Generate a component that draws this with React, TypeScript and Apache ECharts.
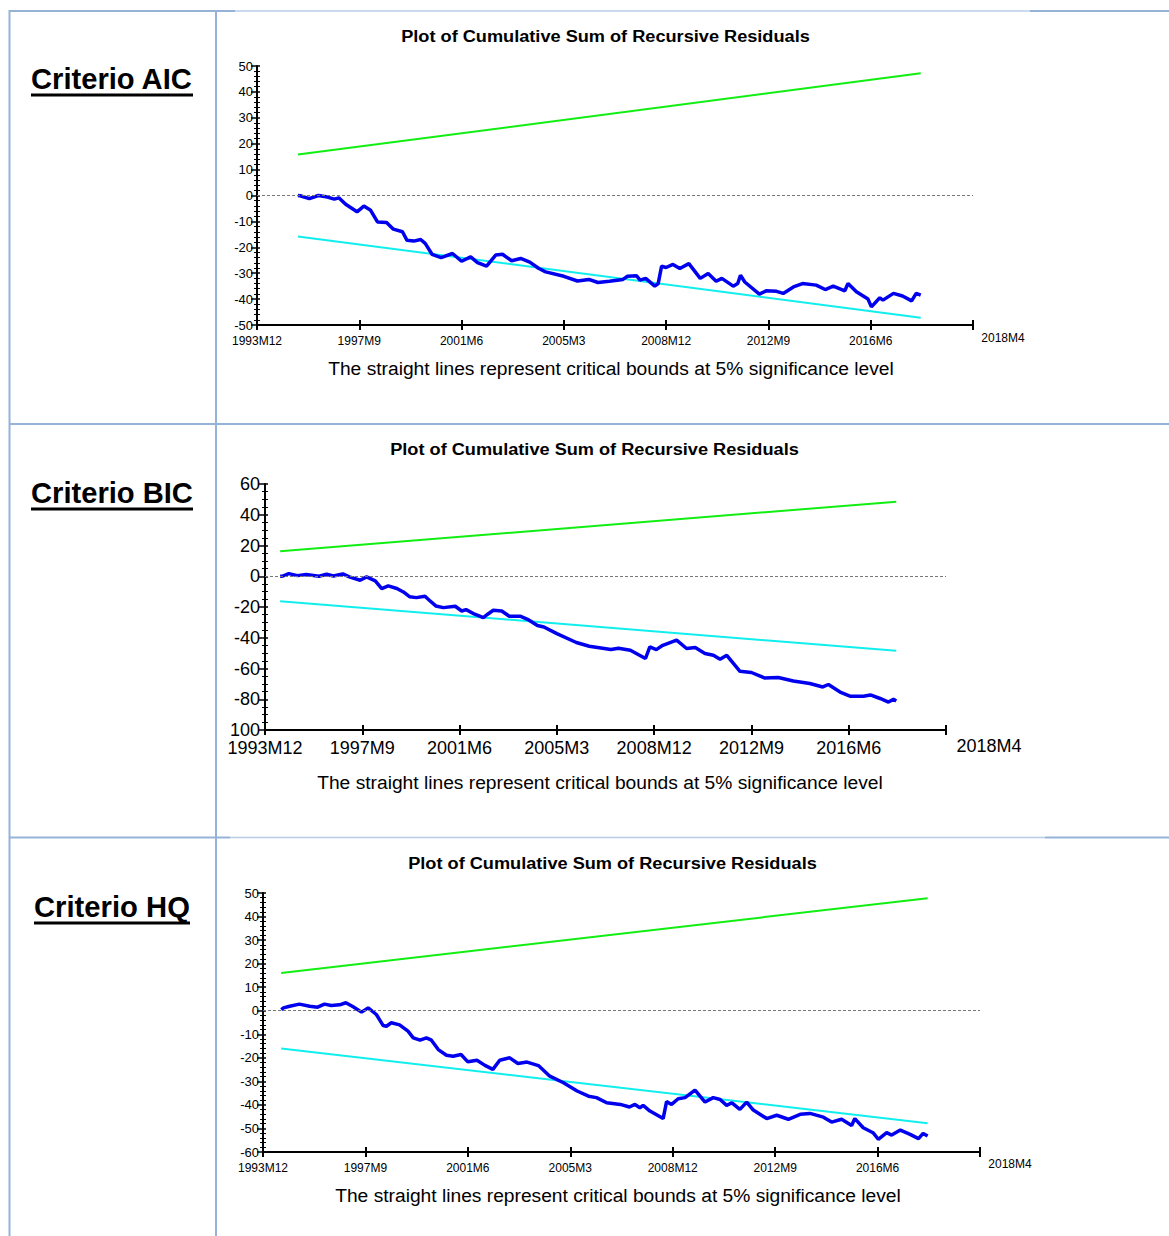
import React, { useEffect, useRef } from 'react';
import * as echarts from 'echarts';

// ---------------- DATA ----------------
// x = months elapsed since 1993M12, y = cumulative sum of recursive residuals
const xTickLabels = ['1993M12', '1997M9', '2001M6', '2005M3', '2008M12', '2012M9', '2016M6', '2018M4'];

const aicCusum: [number, number][] = [
  [18, 0], [19, -0.1], [23, -1.2], [27, 0], [31, -0.6], [34, -1.4], [36, -0.9], [39, -3.4], [44, -6.3],
  [47, -4.1], [50, -5.7], [53, -10.2], [57, -10.4], [60, -13], [64, -14], [66, -17.3], [69, -17.6],
  [72, -17], [74, -18.5], [77, -22.7], [81, -24], [86, -22.4], [90, -25.4], [94, -23.7], [97, -25.9],
  [101, -27.3], [105, -23], [108, -22.7], [112, -25.2], [116, -24.3], [120, -25.7], [124, -28.2],
  [127, -29.5], [135, -31.2], [141, -33], [146, -32.4], [150, -33.6], [155, -33.1], [161, -32.4],
  [163, -31.2], [167, -31], [168.5, -32.7], [171, -32], [175, -35], [176.5, -34], [178, -27.3],
  [180, -27.8], [183, -26.6], [186, -28.2], [190, -26.3], [195, -32], [198.5, -30.1], [202, -33.1],
  [204.5, -32], [209.5, -35], [211.5, -34], [212.7, -30.8], [214.6, -33.4], [221, -38.1], [224, -36.8],
  [228.6, -37], [231.5, -37.8], [236, -35.3], [240, -34], [246, -34.6], [250, -36.3], [253.5, -35],
  [258.6, -36.8], [260, -34], [263.7, -37.2], [268.8, -40], [270.3, -43], [274, -39.5], [275.4, -40.4],
  [280, -37.8], [284, -38.8], [288, -40.7], [290, -37.8], [292, -38.5],
];
const aicUpper: [number, number][] = [[18, 15.8], [292, 47.2]];
const aicLower: [number, number][] = [[18, -15.8], [292, -47.2]];

const bicCusum: [number, number][] = [
  [7, 0], [8, 0], [11, 1.7], [15, 0.4], [19, 1.1], [25, 0], [28.5, 1.3], [31.6, 0.2], [36, 1.5], [39, -0.4],
  [44, -2.6], [47, -0.4], [51, -3], [54, -8], [57, -6.3], [61, -8], [64, -10.2], [67, -13.4], [70, -13.9],
  [74, -13], [76, -15.6], [79, -19.3], [82.5, -20.4], [88, -19.5], [91, -22.6], [93, -21.7], [97, -24.7],
  [101, -26.9], [103, -24.7], [105.6, -22.1], [109.5, -22.6], [113, -26], [118, -26], [122, -28.4],
  [126, -32], [129, -33], [135, -37.3], [144, -43.1], [150, -45.5], [160, -47.7], [163.5, -46.8],
  [169, -48.1], [176, -53.5], [178, -46], [181, -47.7], [184, -44.9], [190.4, -41.6], [195, -47],
  [199, -46.4], [203.5, -50.3], [207.4, -51.4], [210.5, -54], [213.6, -51.4], [219.7, -61.8],
  [225, -62.6], [231, -66.1], [237.4, -65.9], [244.4, -68.1], [252, -69.8], [258, -72], [260.6, -70.4],
  [266, -75.3], [270.6, -78], [276.8, -78], [280, -77.2], [284.5, -79.5], [288.4, -81.8], [290.7, -80],
  [292, -81.1],
];
const bicUpper: [number, number][] = [[7, 16.2], [292, 48.5]];
const bicLower: [number, number][] = [[7, -16.2], [292, -48.5]];

const hqCusum: [number, number][] = [
  [8, 0.5], [9, 1.2], [11.7, 1.9], [16, 2.8], [20.5, 1.9], [24, 1.5], [27, 2.8], [30, 2.2], [33.7, 2.5],
  [36.4, 3.4], [39.6, 1.7], [43.3, -0.6], [46.2, 1.2], [49.8, -1.6], [52.8, -6.3], [54.2, -6.6],
  [56.4, -5.1], [60, -6], [63.7, -8.7], [66, -11.5], [69, -12.5], [71.8, -11.5], [74, -12.5], [77, -16.5],
  [80.6, -18.9], [83.5, -19.3], [87, -18.6], [90, -21.7], [94, -21], [97.5, -23.2], [101, -24.9],
  [104, -21], [108.4, -20], [112, -22.4], [116, -21.8], [121, -23.3], [126, -27.8], [132, -30.6],
  [138, -34.1], [143, -36.3], [146.5, -36.9], [151, -39.1], [157, -39.8], [161, -40.9], [163.4, -39.8],
  [165.6, -41.2], [167, -40.2], [170, -42.6], [175.8, -45.8], [177.3, -38.6], [179.5, -39.8],
  [182.4, -37.4], [185.4, -36.9], [189.8, -33.7], [194.2, -38.8], [197.8, -36.9], [200.8, -37.7],
  [203.7, -40.2], [206, -39.1], [209.5, -41.9], [212.5, -38.8], [215.4, -42.2], [221.3, -45.8],
  [225.7, -44.4], [230.8, -46.1], [236, -44], [240.3, -43.6], [246.2, -45.2], [249.8, -47.3],
  [254.2, -46.1], [258.6, -48.7], [260, -45.8], [263.7, -49.7], [268, -51.8], [270.3, -54.6],
  [274, -51.8], [276.2, -52.8], [280, -50.7], [284.3, -52.5], [288, -54.3], [290, -52.1], [292, -53.2],
];
const hqUpper: [number, number][] = [[8, 16], [292, 47.8]];
const hqLower: [number, number][] = [[8, -16], [292, -47.8]];

const panelNames = ['Criterio AIC', 'Criterio BIC', 'Criterio HQ'];
const chartTitle = 'Plot of Cumulative Sum of Recursive Residuals';
const chartNote = 'The straight lines represent critical bounds at 5% significance level';

// ---------------- LAYOUT ----------------
const FONT = "'Liberation Sans', Arial, Helvetica, sans-serif";
const W = 1169;
const H = 1236;

const panels = [
  {
    name: panelNames[0], nameX: 31, nameY: 79, nameW: 162, ulY: 95,
    grid: { left: 257, top: 66, width: 716, height: 259 },
    titleX: 605.5, titleY: 36, subX: 611, subY: 369,
    yMin: -50, yMax: 50, yInt: 10, yMinor: 5, yFont: 13, yMargin: 4,
    xFont: 12, xMargin: 7, xPad: 3, lastPad: 60,
    cusum: aicCusum, upper: aicUpper, lower: aicLower,
  },
  {
    name: panelNames[1], nameX: 31, nameY: 493, nameW: 162, ulY: 509,
    grid: { left: 265, top: 484, width: 681, height: 246 },
    titleX: 594.5, titleY: 449, subX: 600, subY: 783,
    yMin: -100, yMax: 60, yInt: 20, yMinor: 4, yFont: 18, yMargin: 5,
    xFont: 18, xMargin: 7, xPad: 2, lastPad: 86,
    cusum: bicCusum, upper: bicUpper, lower: bicLower,
  },
  {
    name: panelNames[2], nameX: 34, nameY: 907, nameW: 156, ulY: 923,
    grid: { left: 263, top: 893, width: 717, height: 259 },
    titleX: 612.5, titleY: 863, subX: 618, subY: 1196,
    yMin: -60, yMax: 50, yInt: 10, yMinor: 5, yFont: 13, yMargin: 4,
    xFont: 12, xMargin: 6, xPad: 4, lastPad: 60,
    cusum: hqCusum, upper: hqUpper, lower: hqLower,
  },
];

function measure(text: string, font: string): number {
  const ctx = document.createElement('canvas').getContext('2d');
  if (!ctx) return 1;
  ctx.font = font;
  return ctx.measureText(text).width || 1;
}

function fitText(text: string, x: number, y: number, width: number, font: string, align: string) {
  const w = measure(text, font);
  return {
    type: 'text',
    x,
    y,
    scaleX: width / w,
    z: 10,
    style: {
      text,
      font,
      fill: '#000',
      textAlign: align,
      align,
      textVerticalAlign: 'middle',
      verticalAlign: 'middle',
    },
  };
}

function hLine(x1: number, x2: number, y: number, color: string, w: number) {
  return { type: 'line', shape: { x1, y1: y, x2, y2: y }, style: { stroke: color, lineWidth: w }, z: 1 };
}
function vLine(x: number, y1: number, y2: number, color: string, w: number) {
  return { type: 'line', shape: { x1: x, y1, x2: x, y2 }, style: { stroke: color, lineWidth: w }, z: 1 };
}

const DARK = '#95b3d7';
const LIGHT = '#b8cce4';

export default function App() {
  const ref = useRef<HTMLDivElement>(null);

  useEffect(() => {
    if (!ref.current) return;
    const chart = echarts.init(ref.current, undefined, { renderer: 'svg', width: W, height: H });

    const grids: any[] = [];
    const xAxes: any[] = [];
    const yAxes: any[] = [];
    const series: any[] = [];
    const graphics: any[] = [];

    // table borders
    graphics.push(vLine(9.5, 10, H, DARK, 2));
    graphics.push(vLine(216, 10, H, DARK, 2));
    graphics.push(hLine(9, 235, 11, DARK, 2));
    graphics.push(hLine(235, 1030, 11, LIGHT, 1.5));
    graphics.push(hLine(1030, W, 11, DARK, 2));
    graphics.push(hLine(9, W, 424, DARK, 2));
    graphics.push(hLine(9, 230, 837.5, DARK, 2));
    graphics.push(hLine(230, 1045, 837.5, LIGHT, 1.5));
    graphics.push(hLine(1045, W, 837.5, DARK, 2));

    panels.forEach((p, i) => {
      grids.push({ ...p.grid, containLabel: false });

      const labelFmt = (v: number) => {
        const k = Math.round(v / 45);
        const s = xTickLabels[k] ?? '';
        return k === xTickLabels.length - 1 ? `{last|${s}}` : `{n|${s}}`;
      };
      const rich = {
        n: { fontSize: p.xFont, fontFamily: FONT, color: '#000', padding: [p.xPad, 0, 0, 0] },
        last: { fontSize: p.xFont, fontFamily: FONT, color: '#000', padding: [0, 0, 0, p.lastPad] },
      };

      xAxes.push({
        type: 'value', gridIndex: i, min: 0, max: 315, interval: 45, position: 'bottom',
        axisLine: { show: true, onZero: false, lineStyle: { color: '#000', width: 2 } },
        axisTick: { show: true, length: 5, lineStyle: { color: '#000', width: 2 } },
        axisLabel: { show: true, formatter: labelFmt, rich, margin: p.xMargin, fontSize: p.xFont, fontFamily: FONT, color: '#000' },
        splitLine: { show: false },
      });
      xAxes.push({
        type: 'value', gridIndex: i, min: 0, max: 315, interval: 45, position: 'bottom',
        axisLine: { show: false, onZero: false },
        axisTick: { show: true, inside: true, length: 5, lineStyle: { color: '#000', width: 2 } },
        axisLabel: { show: false },
        splitLine: { show: false },
      });

      yAxes.push({
        type: 'value', gridIndex: i, min: p.yMin, max: p.yMax, interval: p.yInt, position: 'left',
        axisLine: { show: true, onZero: false, lineStyle: { color: '#000', width: 2 } },
        axisTick: { show: true, length: 6, lineStyle: { color: '#000', width: 1.5 } },
        minorTick: { show: true, splitNumber: p.yMinor, length: 3, lineStyle: { color: '#000', width: 1 } },
        axisLabel: {
          show: true, margin: p.yMargin, fontSize: p.yFont, fontFamily: FONT, color: '#000',
          formatter: (v: number) => (v === -100 ? '100' : String(v)),
        },
        splitLine: { show: false },
        minorSplitLine: { show: false },
      });
      yAxes.push({
        type: 'value', gridIndex: i, min: p.yMin, max: p.yMax, interval: p.yInt, position: 'left',
        axisLine: { show: false, onZero: false },
        axisTick: { show: true, inside: true, length: 3, lineStyle: { color: '#000', width: 1.5 } },
        minorTick: { show: true, splitNumber: p.yMinor, length: 3, lineStyle: { color: '#000', width: 1 } },
        axisLabel: { show: false },
        splitLine: { show: false },
      });

      const xi = i * 2;
      const yi = i * 2;
      series.push({
        type: 'line', xAxisIndex: xi, yAxisIndex: yi, data: p.upper, showSymbol: false, symbol: 'none',
        lineStyle: { color: '#11ee11', width: 2 }, z: 2,
      });
      series.push({
        type: 'line', xAxisIndex: xi, yAxisIndex: yi, data: p.lower, showSymbol: false, symbol: 'none',
        lineStyle: { color: '#11eeee', width: 2 }, z: 2,
      });
      series.push({
        type: 'line', xAxisIndex: xi, yAxisIndex: yi, data: p.cusum, showSymbol: false, symbol: 'none',
        lineStyle: { color: '#0000ee', width: 3.5 }, z: 3,
        markLine: {
          silent: true, symbol: 'none', label: { show: false },
          lineStyle: { type: [3, 2], color: '#777', width: 1 },
          data: [{ yAxis: 0 }],
        },
      });

      graphics.push(fitText(chartTitle, p.titleX, p.titleY, 409, `bold 17px ${FONT}`, 'center'));
      graphics.push(fitText(chartNote, p.subX, p.subY, 566, `19px ${FONT}`, 'center'));
      graphics.push(fitText(p.name, p.nameX, p.nameY, p.nameW, `bold 29px ${FONT}`, 'left'));
      graphics.push({
        type: 'line', z: 10,
        shape: { x1: p.nameX, y1: p.ulY, x2: p.nameX + p.nameW, y2: p.ulY },
        style: { stroke: '#000', lineWidth: 3 },
      });
    });

    chart.setOption({
      animation: false,
      backgroundColor: '#fff',
      grid: grids,
      xAxis: xAxes,
      yAxis: yAxes,
      series,
      graphic: { elements: graphics },
    });

    return () => chart.dispose();
  }, []);

  return (
    <div
      ref={ref}
      style={{ position: 'absolute', left: 0, top: 0, width: W, height: H, background: '#fff' }}
    />
  );
}
